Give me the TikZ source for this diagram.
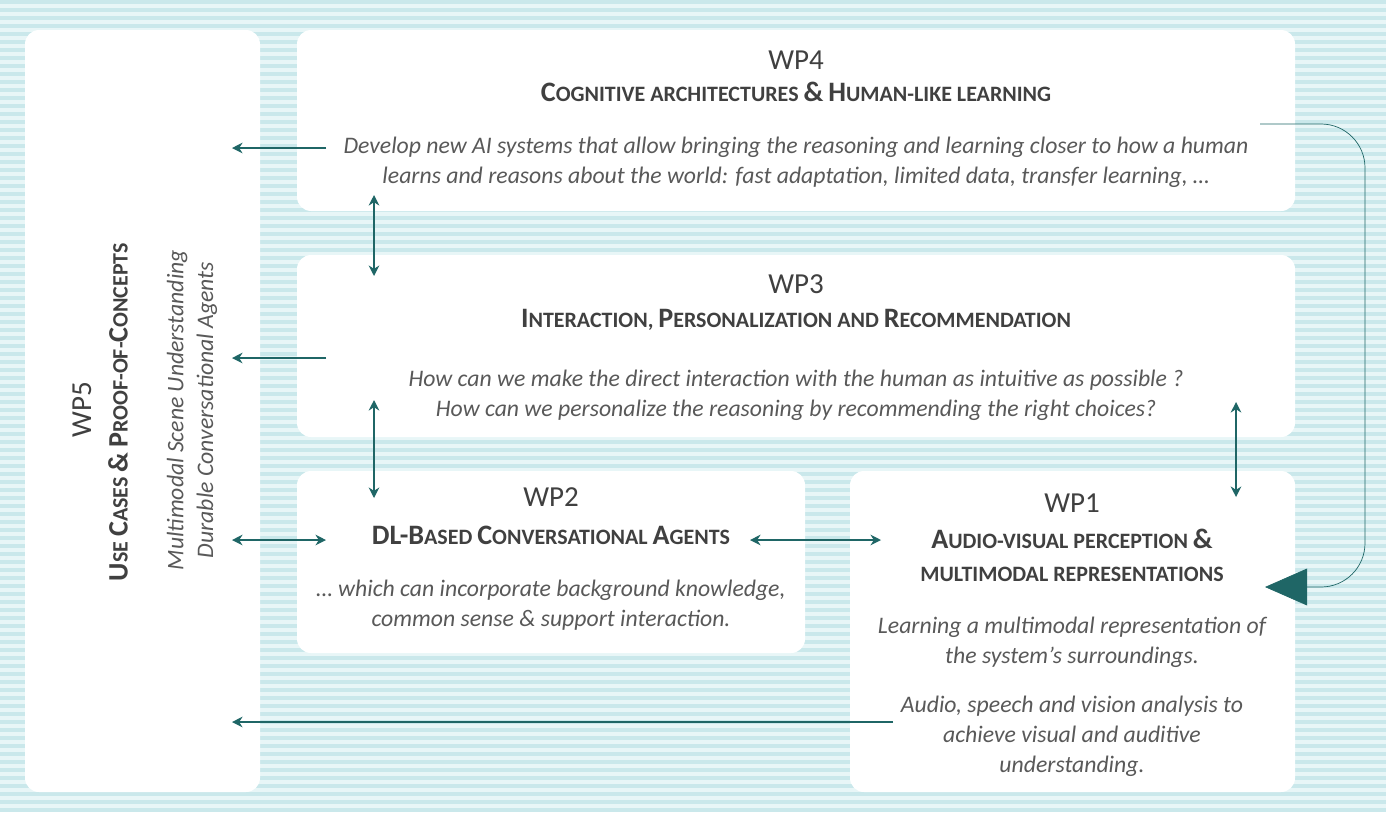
\documentclass[tikz,border=0pt]{standalone}
\usepackage{fontspec}
\setmainfont{Carlito}
\usetikzlibrary{arrows.meta}
\definecolor{wpteal}{HTML}{1F6666}
\definecolor{wptext}{HTML}{404040}
\definecolor{wpital}{HTML}{595959}
\definecolor{bgbase}{HTML}{E8F6F7}
\definecolor{bgband}{HTML}{CAE8EB}
\newcommand{\bc}[1]{{\fontsize{16}{18.7}\selectfont #1}}

\begin{document}
\begin{tikzpicture}[x=0.02cm, y=-0.02cm,
  box/.style = {fill=white, rounded corners=8pt},
  wpnum/.style = {text=wptext, font=\fontsize{16.5}{20}\selectfont},
  wptitle/.style = {text=wptext, font=\fontsize{12.5}{18.7}\selectfont\bfseries, align=center},
  wpdesc/.style = {text=wpital, font=\fontsize{13.5}{17}\selectfont\itshape, align=center},
  link/.style = {draw=wpteal, thick, -{Stealth[length=6pt,width=6pt]}},
  both/.style = {link, {Stealth[length=6pt,width=6pt]}-{Stealth[length=6pt,width=6pt]}}]
  \useasboundingbox (0,0) rectangle (1386,812);
  % striped background
  \fill[bgbase] (0,0) rectangle (1386,812);
  \foreach \y in {0,8,...,808}
    \fill[bgband] (0,\y) rectangle (1386,\y+4);

  % boxes
  \fill[box] (25,30) rectangle (260,792);
  \fill[box] (297,30) rectangle (1295,211);
  \fill[box] (297,255) rectangle (1295,437);
  \fill[box] (297,471) rectangle (805,653);
  \fill[box] (850,471) rectangle (1295,792);

  % WP4
  \node[wpnum] (wp4) at (796,60) {WP4};
  \node[wptitle] (wp4t) at (796,92) {\bc{C}OGNITIVE ARCHITECTURES \bc{\&} \bc{H}UMAN-LIKE LEARNING};
  \node[wpdesc] (wp4d) at (796,162) {Develop new AI systems that allow bringing the reasoning and learning closer to how a human\\
    learns and reasons about the world: fast adaptation, limited data, transfer learning, \dots};

  % WP3
  \node[wpnum] (wp3) at (796,284) {WP3};
  \node[wptitle] (wp3t) at (796,320) {\bc{I}NTERACTION, \bc{P}ERSONALIZATION AND \bc{R}ECOMMENDATION};
  \node[wpdesc] (wp3d) at (796,395) {How can we make the direct interaction with the human as intuitive as possible ?\\
    How can we personalize the reasoning by recommending the right choices?};

  % WP2
  \node[wpnum] (wp2) at (551,497) {WP2};
  \node[wptitle] (wp2t) at (551,535) {\bc{DL-B}ASED \bc{C}ONVERSATIONAL \bc{A}GENTS};
  \node[wpdesc] (wp2d) at (551,605) {\dots{} which can incorporate background knowledge,\\
    common sense \& support interaction.};

  % WP1
  \node[wpnum] (wp1) at (1072,503) {WP1};
  \node[wptitle] (wp1t) at (1072,555) {\bc{A}UDIO-VISUAL PERCEPTION \bc{\&}\\ MULTIMODAL REPRESENTATIONS};
  \node[wpdesc] (wp1d) at (1072,642) {Learning a multimodal representation of\\
    the system’s surroundings.};
  \node[wpdesc] (wp1e) at (1072,736) {Audio, speech and vision analysis to\\
    achieve visual and auditive\\ understanding.};

  % WP5
  \node[wpnum, rotate=90] (wp5) at (82,410) {WP5};
  \node[wptitle, rotate=90] (wp5t) at (118,412) {\bc{U}SE \bc{C}ASES \bc{\&} \bc{P}ROOF-OF-\bc{C}ONCEPTS};
  \node[wpdesc, rotate=90] (wp5d) at (192,410) {Multimodal Scene Understanding\\ Durable Conversational Agents};

  % arrow ends
  \coordinate (a4) at (326,148);   \coordinate (b4) at (232,148);
  \coordinate (a3) at (326,358);   \coordinate (b3) at (232,358);
  \coordinate (a2) at (326,540);   \coordinate (b2) at (232,540);
  \coordinate (a1) at (893,722);   \coordinate (b1) at (232,722);
  \coordinate (v43a) at (374,195); \coordinate (v43b) at (374,276);
  \coordinate (v32a) at (374,400); \coordinate (v32b) at (374,498);
  \coordinate (h21a) at (750,540); \coordinate (h21b) at (881,540);
  \coordinate (v31a) at (1236,402); \coordinate (v31b) at (1236,497);
  \coordinate (c4) at (1260,124);  \coordinate (c1) at (1265,587);

  \draw[link] (a4) -- (b4);
  \draw[link] (a3) -- (b3);
  \draw[both] (b2) -- (a2);
  \draw[link] (a1) -- (b1);
  \draw[both] (v43a) -- (v43b);
  \draw[both] (v32a) -- (v32b);
  \draw[both] (h21a) -- (h21b);
  \draw[both] (v31a) -- (v31b);
  \draw[draw=wpteal, rounded corners=25pt, -{Triangle[length=24pt,width=21pt]}]
    (c4) -- (1365,124) -- (1365,587) -- (c1);
\end{tikzpicture}
\end{document}
